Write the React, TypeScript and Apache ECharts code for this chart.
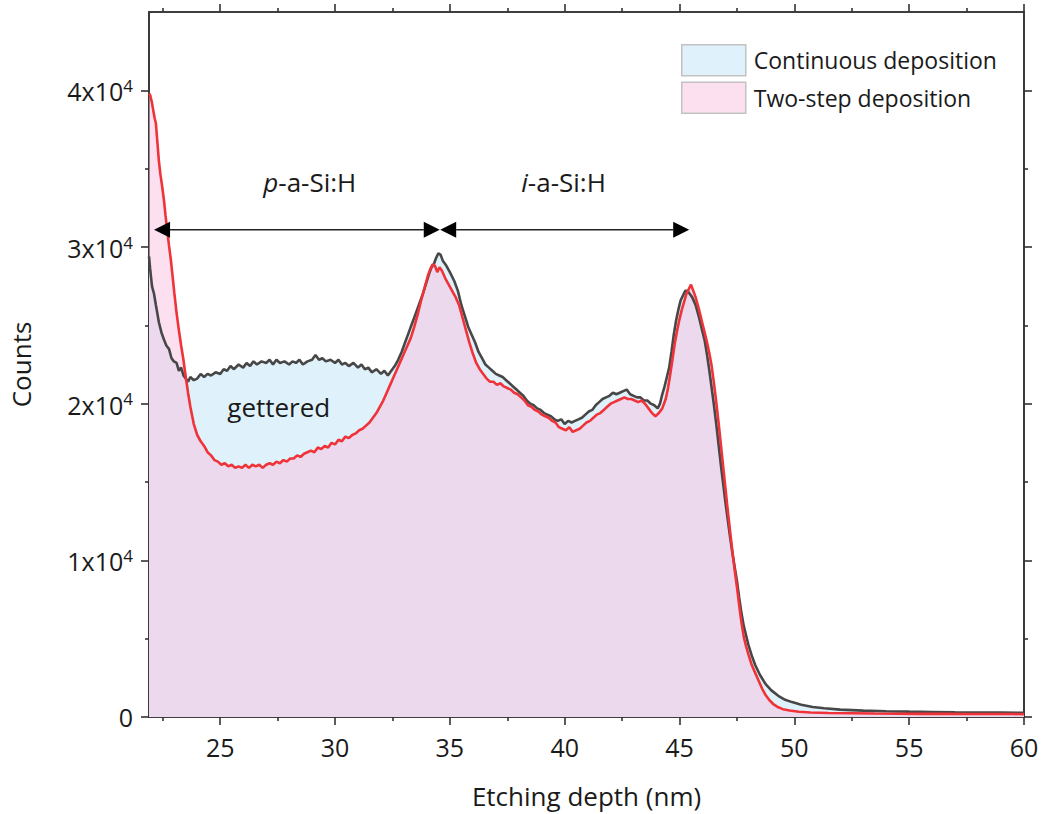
import React, { useEffect, useRef } from "react";
import * as echarts from "echarts";

// Depth profile, continuous deposition (nm, counts)
const depthContinuous = [
  21.9, 21.95, 22.03, 22.12, 22.2, 22.33, 22.45, 22.55, 22.66, 22.77, 22.88, 22.98, 23.1, 23.2, 23.3, 23.4, 23.5, 23.6, 23.7, 23.85,
  24.0, 24.15, 24.3, 24.45, 24.6, 24.8, 25.0, 25.15, 25.3, 25.45, 25.6, 25.8, 26.0, 26.15, 26.3, 26.45, 26.6, 26.8, 27.0, 27.15,
  27.3, 27.45, 27.6, 27.8, 28.0, 28.15, 28.3, 28.45, 28.6, 28.8, 29.0, 29.15, 29.3, 29.45, 29.6, 29.8, 30.0, 30.15, 30.3, 30.45,
  30.6, 30.8, 31.0, 31.15, 31.3, 31.45, 31.6, 31.8, 32.0, 32.15, 32.3, 32.45, 32.6, 32.75, 32.9, 33.05, 33.2, 33.35, 33.5, 33.65,
  33.8, 33.95, 34.1, 34.2, 34.3, 34.4, 34.5, 34.6, 34.7, 34.85, 35.0, 35.1, 35.2, 35.35, 35.5, 35.65, 35.8, 35.95, 36.1, 36.25,
  36.4, 36.55, 36.7, 36.85, 37.0, 37.15, 37.3, 37.45, 37.6, 37.75, 37.9, 38.05, 38.2, 38.35, 38.5, 38.65, 38.8, 38.95, 39.1, 39.25,
  39.4, 39.55, 39.7, 39.85, 40.0, 40.15, 40.3, 40.45, 40.6, 40.75, 40.9, 41.05, 41.2, 41.35, 41.5, 41.65, 41.8, 41.95, 42.1, 42.25,
  42.4, 42.55, 42.7, 42.85, 43.0, 43.15, 43.3, 43.45, 43.6, 43.75, 43.9, 44.05, 44.15, 44.25, 44.35, 44.45, 44.55, 44.65, 44.75, 44.85,
  44.95, 45.05, 45.15, 45.25, 45.35, 45.45, 45.55, 45.7, 45.85, 46.0, 46.1, 46.2, 46.3, 46.4, 46.5, 46.6, 46.7, 46.8, 46.9, 47.0,
  47.1, 47.2, 47.3, 47.4, 47.5, 47.6, 47.7, 47.8, 47.9, 48.0, 48.15, 48.3, 48.5, 48.75, 49.0, 49.3, 49.6, 49.9, 50.3, 50.8,
  51.3, 52.0, 53.0, 54.0, 55.0, 56.0, 57.0, 58.0, 59.0, 60.0,
];
const countsContinuous = [
  29400, 28600, 27500, 27000, 26300, 25200, 24500, 24100, 23700, 23500, 22900, 22700, 22600, 22100, 22300, 21800, 21600, 21400, 21700, 21500,
  21600, 21900, 21700, 21900, 21800, 22000, 21900, 22200, 22100, 22400, 22200, 22500, 22300, 22600, 22400, 22700, 22500, 22700, 22600, 22800,
  22500, 22800, 22600, 22700, 22500, 22700, 22600, 22800, 22500, 22700, 22800, 23100, 22800, 22900, 22700, 22800, 22600, 22800, 22500, 22600,
  22400, 22600, 22300, 22500, 22200, 22300, 22000, 22200, 21900, 22100, 21800, 22100, 22400, 22800, 23300, 23900, 24500, 25100, 25700, 26300,
  26900, 27600, 28300, 28700, 28900, 29300, 29600, 29500, 29100, 28800, 28400, 28100, 27800, 27200, 26300, 25600, 24900, 24400, 23900, 23300,
  22900, 22500, 22300, 22100, 21900, 21800, 21700, 21500, 21300, 21100, 20900, 20700, 20500, 20200, 20000, 19900, 19700, 19600, 19400, 19300,
  19200, 19000, 18900, 19000, 18700, 18900, 18800, 18900, 19000, 19100, 19300, 19500, 19600, 19900, 20100, 20300, 20400, 20500, 20700, 20600,
  20700, 20800, 20900, 20600, 20500, 20400, 20400, 20200, 20200, 20000, 19900, 19700, 20000, 20600, 21100, 21700, 22300, 23300, 24400, 25300,
  26000, 26600, 26900, 27200, 27200, 27000, 26800, 26300, 25500, 24600, 24000, 23100, 22100, 21000, 19900, 18700, 17400, 16100, 14900, 13700,
  12600, 11500, 10500, 9600, 8700, 7600, 6600, 5800, 5200, 4600, 3900, 3300, 2700, 2100, 1700, 1350, 1100, 950, 780, 640,
  560, 470, 410, 370, 340, 320, 300, 290, 280, 270,
];

// Depth profile, two-step deposition (nm, counts)
const depthTwoStep = [
  21.9, 21.95, 22.03, 22.1, 22.15, 22.2, 22.27, 22.33, 22.4, 22.47, 22.55, 22.62, 22.7, 22.77, 22.85, 22.93, 23.0, 23.1, 23.2, 23.3,
  23.4, 23.5, 23.6, 23.7, 23.85, 24.0, 24.15, 24.3, 24.45, 24.6, 24.75, 24.9, 25.05, 25.2, 25.35, 25.5, 25.65, 25.8, 25.95, 26.1,
  26.25, 26.4, 26.55, 26.7, 26.85, 27.0, 27.15, 27.3, 27.45, 27.6, 27.75, 27.9, 28.05, 28.2, 28.35, 28.5, 28.65, 28.8, 28.95, 29.1,
  29.25, 29.4, 29.55, 29.7, 29.85, 30.0, 30.15, 30.3, 30.45, 30.6, 30.75, 30.9, 31.05, 31.2, 31.35, 31.5, 31.65, 31.8, 31.95, 32.1,
  32.25, 32.4, 32.55, 32.7, 32.85, 33.0, 33.15, 33.3, 33.45, 33.6, 33.75, 33.9, 34.05, 34.15, 34.25, 34.35, 34.45, 34.55, 34.65, 34.8,
  34.95, 35.1, 35.25, 35.4, 35.55, 35.7, 35.85, 36.0, 36.15, 36.3, 36.45, 36.6, 36.75, 36.9, 37.05, 37.2, 37.35, 37.5, 37.65, 37.8,
  37.95, 38.1, 38.25, 38.4, 38.55, 38.7, 38.85, 39.0, 39.15, 39.3, 39.45, 39.6, 39.75, 39.9, 40.05, 40.2, 40.35, 40.5, 40.65, 40.8,
  40.95, 41.1, 41.25, 41.4, 41.55, 41.7, 41.85, 42.0, 42.15, 42.3, 42.45, 42.6, 42.75, 42.9, 43.05, 43.2, 43.35, 43.5, 43.65, 43.8,
  43.95, 44.1, 44.25, 44.4, 44.5, 44.6, 44.7, 44.8, 44.9, 45.0, 45.1, 45.2, 45.3, 45.4, 45.5, 45.6, 45.7, 45.85, 46.0, 46.1,
  46.2, 46.3, 46.4, 46.5, 46.6, 46.7, 46.8, 46.9, 47.0, 47.1, 47.2, 47.3, 47.4, 47.5, 47.6, 47.7, 47.8, 47.9, 48.0, 48.15,
  48.3, 48.45, 48.6, 48.75, 48.9, 49.1, 49.3, 49.5, 49.8, 50.2, 50.7, 51.5, 52.5, 53.5, 54.5, 55.5, 56.5, 57.5, 58.5, 59.5, 60.0,
];
const countsTwoStep = [
  39800, 39700, 39200, 38600, 38200, 37900, 36600, 35500, 34600, 33900, 33000, 32000, 31000, 30100, 29200, 28100, 27100, 25800, 24700, 23700,
  22800, 21700, 20700, 19800, 18700, 18000, 17600, 17300, 16900, 16700, 16400, 16300, 16100, 16200, 16000, 16100, 15900, 16000, 15900, 16100,
  15900, 16100, 16000, 16100, 15900, 16100, 16200, 16100, 16300, 16200, 16400, 16300, 16500, 16500, 16700, 16600, 16800, 16900, 17000, 16900,
  17200, 17100, 17300, 17200, 17500, 17400, 17700, 17600, 17900, 17800, 18000, 18100, 18300, 18400, 18600, 18800, 19100, 19400, 19800, 20200,
  20700, 21200, 21700, 22200, 22700, 23200, 23700, 24200, 24900, 25700, 26600, 27400, 28200, 28600, 28900, 28800, 28400, 28700, 28500, 28000,
  27600, 27200, 26800, 26300, 25500, 24700, 23900, 23200, 22600, 22200, 21900, 21600, 21400, 21400, 21200, 21300, 21100, 21000, 20900, 20700,
  20600, 20400, 20200, 19900, 19800, 19600, 19500, 19300, 19200, 19100, 18900, 18800, 18500, 18400, 18300, 18500, 18200, 18300, 18400, 18600,
  18800, 18900, 19100, 19300, 19400, 19600, 19800, 20000, 20100, 20200, 20300, 20400, 20300, 20300, 20200, 20100, 20200, 20000, 19700, 19400,
  19200, 19400, 19700, 20300, 21000, 21900, 22900, 23900, 24700, 25400, 26000, 26500, 27000, 27300, 27600, 27200, 26800, 26000, 25100, 24500,
  23900, 23200, 22400, 21300, 20100, 18800, 17400, 16000, 14600, 13200, 11900, 10600, 9400, 8300, 7100, 6000, 5100, 4500, 4000, 3300,
  2800, 2300, 1800, 1400, 1100, 800, 620, 500, 420, 340, 290, 260, 240, 220, 210, 200, 200, 190, 190, 190, 180,
];

const seriesNames = ["Continuous deposition", "Two-step deposition"];
const xMajorTicks = [25, 30, 35, 40, 45, 50, 55, 60];
const xMinorTicks = [22.5, 27.5, 32.5, 37.5, 42.5, 47.5, 52.5, 57.5];
const yMajorTicks = [0, 10000, 20000, 30000, 40000];
const yMinorTicks = [5000, 15000, 25000, 35000];

// Layer spans marked by double arrows (nm) and their height (counts)
const pLayerSpan = [22.12, 34.56];
const iLayerSpan = [34.58, 45.42];
const spanLevel = 31100;
// Annotation anchors (nm, counts)
const pLabelAt = [28.9, 34150];
const iLabelAt = [39.95, 34150];
const getteredAt = [27.55, 19780];

const FONT = "'Open Sans', 'Liberation Sans', sans-serif";
const AXIS_COLOR = "#333333";
const TEXT_COLOR = "#1a1a1a";

const zip = (xs: number[], ys: number[]) => xs.map((x, i) => [x, ys[i]]);

function xAxisDef(position: "bottom" | "top", ticks: number[], len: number, main: boolean) {
  return {
    type: "value",
    position,
    min: 21.9,
    max: 60,
    name: main ? "Etching depth (nm)" : "",
    nameLocation: "middle",
    nameGap: 66,
    nameTextStyle: { fontFamily: FONT, fontSize: 26, color: TEXT_COLOR },
    axisLine: { show: true, onZero: false, lineStyle: { color: AXIS_COLOR, width: 1.6 } },
    axisTick: { show: true, customValues: ticks, length: len, inside: false, lineStyle: { color: AXIS_COLOR, width: 1.6 } },
    axisLabel: {
      show: main,
      customValues: ticks,
      margin: 17,
      fontFamily: FONT,
      fontSize: 25,
      color: TEXT_COLOR,
    },
    splitLine: { show: false },
  };
}

function yAxisDef(position: "left" | "right", ticks: number[], len: number, main: boolean) {
  return {
    type: "value",
    position,
    min: 0,
    max: 45000,
    name: main ? "Counts" : "",
    nameLocation: "middle",
    nameGap: 115,
    nameTextStyle: { fontFamily: FONT, fontSize: 26, color: TEXT_COLOR },
    axisLine: { show: true, onZero: false, lineStyle: { color: AXIS_COLOR, width: 1.6 } },
    axisTick: { show: true, customValues: ticks, length: len, inside: false, lineStyle: { color: AXIS_COLOR, width: 1.6 } },
    axisLabel: {
      show: main,
      customValues: ticks,
      margin: 16,
      formatter: (v: number) => (v === 0 ? "{m|0}" : `{m|${v / 10000}x10}{e|4}`),
      rich: {
        m: { fontFamily: FONT, fontSize: 25, color: TEXT_COLOR, verticalAlign: "bottom" },
        e: { fontFamily: FONT, fontSize: 17, color: TEXT_COLOR, verticalAlign: "bottom", padding: [0, 0, 10, 0] },
      },
    },
    splitLine: { show: false },
  };
}

export default function App() {
  const ref = useRef<HTMLDivElement>(null);

  useEffect(() => {
    if (!ref.current) return;
    const chart = echarts.init(ref.current, undefined, { renderer: "svg" });

    chart.setOption({
      animation: false,
      backgroundColor: "#ffffff",
      grid: { left: 145, right: 19, top: 12, bottom: 94, containLabel: false },
      legend: {
        orient: "vertical",
        left: 681,
        top: 44,
        padding: 0,
        itemWidth: 64,
        itemHeight: 31,
        itemGap: 5,
        icon: "rect",
        selectedMode: false,
        textStyle: { fontFamily: FONT, fontSize: 23, color: TEXT_COLOR, padding: [0, 0, 0, 3] },
        data: [
          { name: seriesNames[0], icon: "rect", itemStyle: { color: "#dff1fb", borderColor: "#c2c2c2", borderWidth: 1.5 } },
          { name: seriesNames[1], icon: "rect", itemStyle: { color: "#fde0ef", borderColor: "#c2c2c2", borderWidth: 1.5 } },
        ],
      },
      xAxis: [
        xAxisDef("bottom", xMajorTicks, 8, true),
        xAxisDef("bottom", xMinorTicks, 4, false),
        xAxisDef("top", xMajorTicks, 8, false),
        xAxisDef("top", xMinorTicks, 4, false),
      ],
      yAxis: [
        yAxisDef("left", yMajorTicks, 8, true),
        yAxisDef("left", yMinorTicks, 4, false),
        yAxisDef("right", yMajorTicks, 8, false),
        yAxisDef("right", yMinorTicks, 4, false),
      ],
      series: [
        {
          name: seriesNames[0],
          type: "line",
          xAxisIndex: 0,
          yAxisIndex: 0,
          data: zip(depthContinuous, countsContinuous),
          symbol: "none",
          showSymbol: false,
          lineStyle: { color: "#474747", width: 2.6 },
          itemStyle: { color: "#474747" },
          areaStyle: { color: "#dff1fb", opacity: 1 },
        },
        {
          name: seriesNames[1],
          type: "line",
          xAxisIndex: 0,
          yAxisIndex: 0,
          data: zip(depthTwoStep, countsTwoStep),
          symbol: "none",
          showSymbol: false,
          lineStyle: { color: "#ef3338", width: 2.6 },
          itemStyle: { color: "#ef3338" },
          areaStyle: { color: "rgba(251,193,223,0.5)", opacity: 1 },
        },
      ],
    });

    // Annotations placed from data coordinates
    const px = (p: number[]) => chart.convertToPixel({ gridIndex: 0 }, p) as number[];
    const head = 16;
    const half = 8;
    const arrow = (span: number[]) => {
      const a = px([span[0], spanLevel]);
      const b = px([span[1], spanLevel]);
      const y = a[1];
      return [
        { type: "line", shape: { x1: a[0] + head, y1: y, x2: b[0] - head, y2: y }, style: { stroke: "#222", lineWidth: 1.6 }, z: 50 },
        { type: "polygon", shape: { points: [[a[0], y], [a[0] + head, y - half], [a[0] + head, y + half]] }, style: { fill: "#000" }, z: 50 },
        { type: "polygon", shape: { points: [[b[0], y], [b[0] - head, y - half], [b[0] - head, y + half]] }, style: { fill: "#000" }, z: 50 },
      ];
    };
    const label = (text: string, at: number[]) => {
      const p = px(at);
      return {
        type: "text",
        x: p[0],
        y: p[1],
        z: 50,
        style: {
          text,
          fontFamily: FONT,
          fontSize: 26,
          fill: TEXT_COLOR,
          align: "center",
          verticalAlign: "middle",
          rich: { i: { fontFamily: FONT, fontSize: 26, fontStyle: "italic", fill: TEXT_COLOR } },
        },
      };
    };

    chart.setOption({
      graphic: [
        ...arrow(pLayerSpan),
        ...arrow(iLayerSpan),
        label("{i|p}-a-Si:H", pLabelAt),
        label("{i|i}-a-Si:H", iLabelAt),
        label("gettered", getteredAt),
      ],
    });

    return () => chart.dispose();
  }, []);

  return <div ref={ref} style={{ position: "absolute", left: 0, top: 0, width: 1043, height: 814 }} />;
}
